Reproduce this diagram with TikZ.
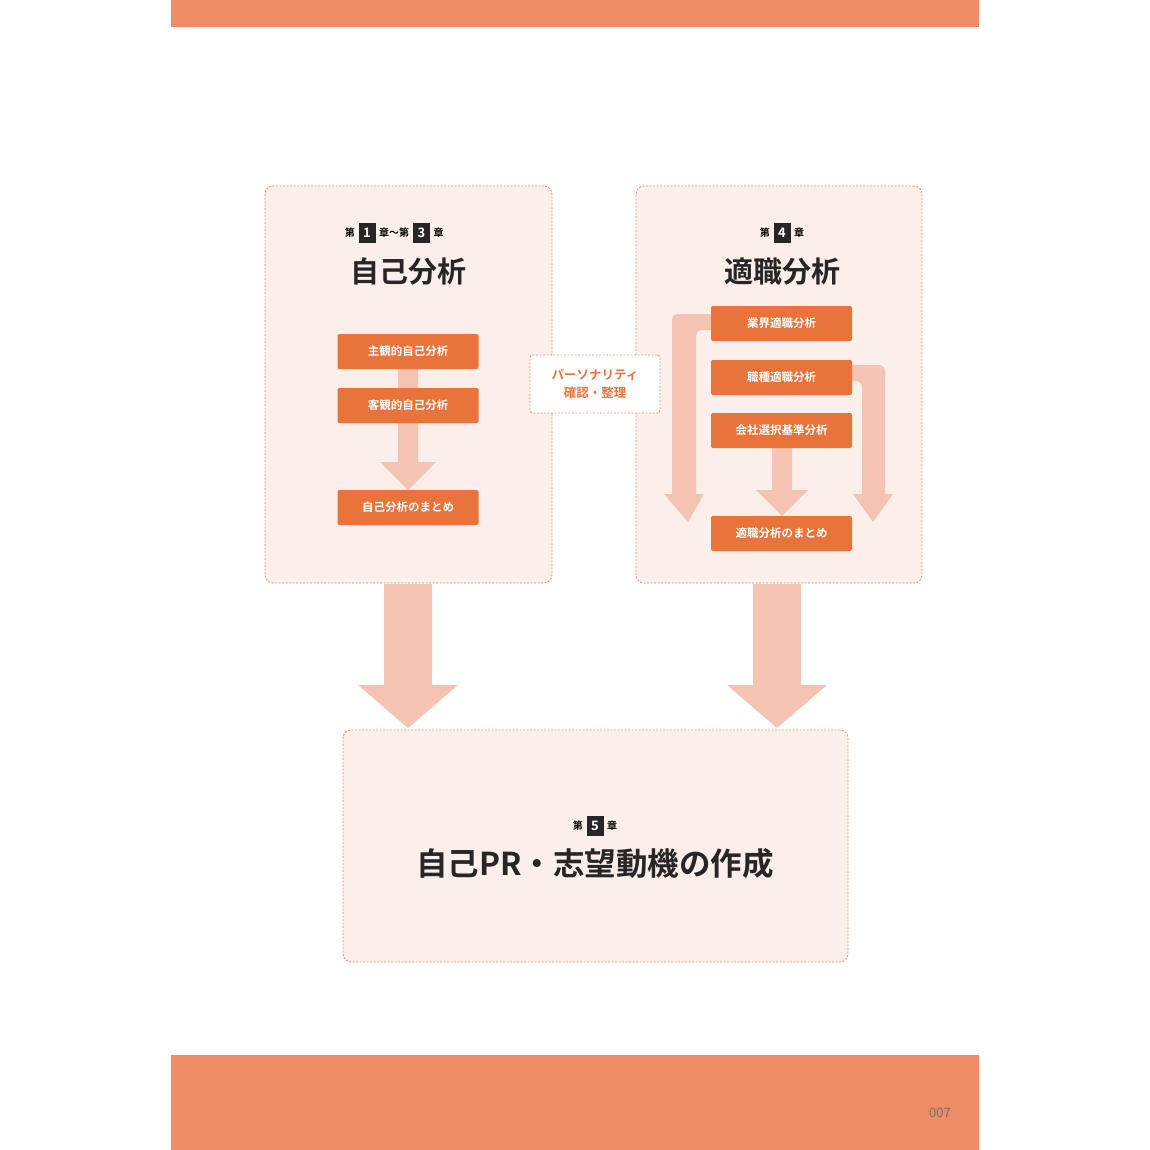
\documentclass[tikz,border=0pt]{standalone}
\usepackage{fontspec}
\setmainfont{Noto Sans CJK JP}
\newfontfamily\jpb{Noto Sans CJK JP Bold}
\definecolor{bar}{HTML}{EE8C66}
\definecolor{panel}{HTML}{FCEEE9}
\definecolor{dash}{HTML}{DD9A80}
\definecolor{obox}{HTML}{E8743B}
\definecolor{larr}{HTML}{F5C3B2}
\begin{document}
\begin{tikzpicture}[x=1pt,y=-1pt,
  panel/.style={draw=dash,dash pattern=on 2pt off 1.5pt,fill=panel,rounded corners=8pt,line width=0.9pt},
  ob/.style={fill=obox,rounded corners=2pt,text=white,font=\jpb\fontsize{11.5}{11.5}\selectfont,minimum width=141pt,minimum height=35pt,inner sep=0pt},
  num/.style={fill=black!85,text=white,font=\jpb\fontsize{13}{13}\selectfont,minimum width=17pt,minimum height=20pt,inner sep=0pt},
  sh/.style={font=\jpb\fontsize{10}{10}\selectfont},
  ttl/.style={font=\jpb\fontsize{29}{29}\selectfont,text=black!85}]
\useasboundingbox (0,0) rectangle (1150,1150);
\fill[white] (0,0) rectangle (1150,1150);
\fill[bar] (171,0) rectangle (979,27);
\fill[bar] (171,1055) rectangle (979,1150);
\node[font=\fontsize{13}{13}\selectfont,text=black!55] (pg) at (940,1113) {007};
% panels
\node[panel,minimum width=287pt,minimum height=397pt] (L) at (408.5,384.5) {};
\node[panel,minimum width=286pt,minimum height=397pt] (R) at (779,384.5) {};
\node[panel,minimum width=505pt,minimum height=232pt] (B) at (595.5,846) {};
% big arrows
\fill[larr] (384,584) -- (432,584) -- (432,685) -- (458,685) -- (408,728) -- (358,685) -- (384,685) -- cycle;
\fill[larr] (753,584) -- (801,584) -- (801,685) -- (827,685) -- (777,728) -- (727,685) -- (753,685) -- cycle;
% left header
\node[num] (n1) at (367,233) {1};
\node[sh,anchor=east] (d1) at (n1.west) {第};
\node[sh,anchor=west] (c1) at (n1.east) {章～第};
\node[num,anchor=west] (n3) at (c1.east) {3};
\node[sh,anchor=west] (c3) at (n3.east) {章};
\node[ttl] (t1) at (408,272) {自己分析};
% left chain
\fill[larr] (398,369) -- (418,369) -- (418,462) -- (436,462) -- (408,490) -- (380,462) -- (398,462) -- cycle;
\node[ob] (a1) at (408,351.5) {主観的自己分析};
\node[ob] (a2) at (408,405.5) {客観的自己分析};
\node[ob] (a3) at (408,507.5) {自己分析のまとめ};
% middle
\node[draw=dash,dash pattern=on 2pt off 1.5pt,line width=0.9pt,fill=white,rounded corners=3pt,minimum width=130pt,minimum height=58pt,align=center,text=obox,font=\jpb\fontsize{12.5}{18}\selectfont] (m) at (595,384) {パーソナリティ\\確認・整理};
% right header
\node[num] (n4) at (782,233) {4};
\node[sh,anchor=east] (d4) at (n4.west) {第};
\node[sh,anchor=west] (c4) at (n4.east) {章};
\node[ttl] (t2) at (782,272) {適職分析};
% right loops
\fill[larr,rounded corners=6pt] (715,314) -- (672,314) -- (672,498) -- (696,498) -- (696,330) -- (715,330) -- cycle;
\fill[larr] (664,494) -- (704,494) -- (688,522) -- cycle;
\fill[larr,rounded corners=6pt] (848,365) -- (885,365) -- (885,498) -- (862,498) -- (862,381) -- (848,381) -- cycle;
\fill[larr] (853,494) -- (893,494) -- (873,522) -- cycle;
\fill[larr] (772,448) -- (792,448) -- (792,490) -- (808,490) -- (782,516) -- (756,490) -- (772,490) -- cycle;
\node[ob] (b1) at (781.5,323.5) {業界適職分析};
\node[ob] (b2) at (781.5,377.5) {職種適職分析};
\node[ob] (b3) at (781.5,430.5) {会社選択基準分析};
\node[ob] (b4) at (781.5,533.5) {適職分析のまとめ};
% bottom
\node[num] (n5) at (595,826) {5};
\node[sh,anchor=east] (d5) at (n5.west) {第};
\node[sh,anchor=west] (c5) at (n5.east) {章};
\node[ttl,font=\jpb\fontsize{31.5}{31.5}\selectfont] (t3) at (595,864) {自己PR・志望動機の作成};
\end{tikzpicture}
\end{document}
